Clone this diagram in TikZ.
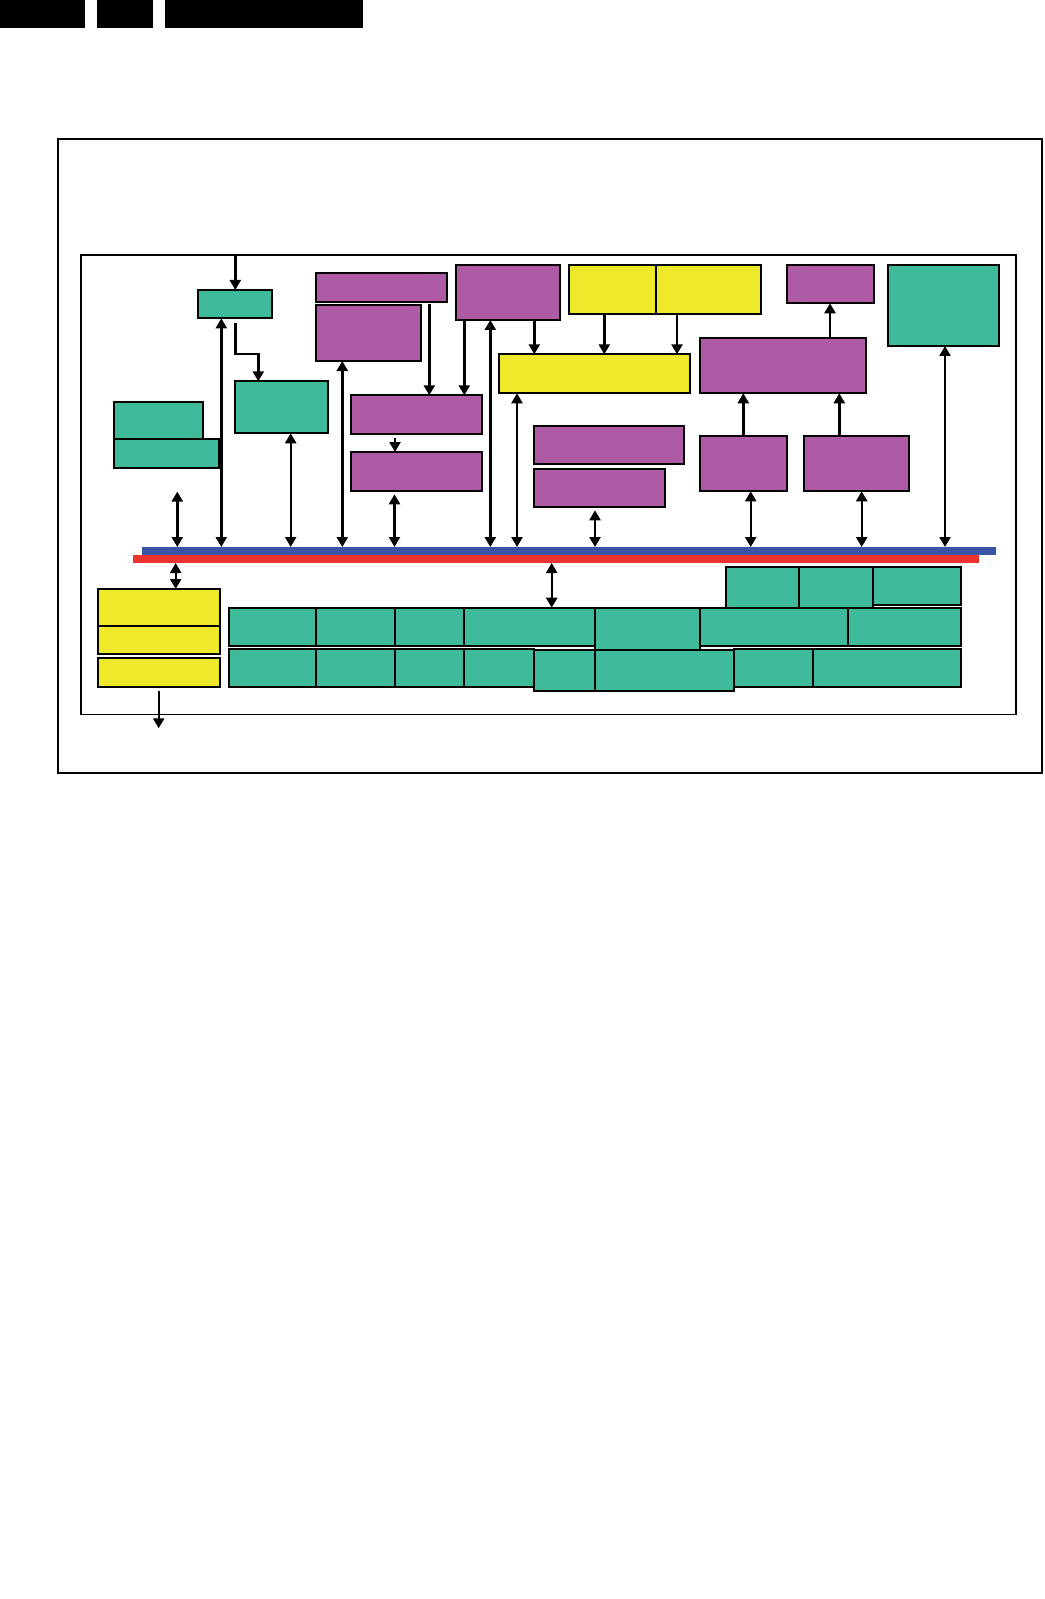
\documentclass[tikz,border=0pt]{standalone}
\usetikzlibrary{arrows.meta,fit}
\definecolor{tealc}{RGB}{63,187,155}
\definecolor{magc}{RGB}{174,90,164}
\definecolor{yelc}{RGB}{238,233,42}
\definecolor{busblue}{RGB}{58,85,166}
\definecolor{busred}{RGB}{238,52,46}
\begin{document}
\begin{tikzpicture}[x=0.5pt,y=-0.5pt,
  blk/.style={draw=black, line width=0.9pt, inner sep=0pt, outer sep=0pt},
  tb/.style={blk, fill=tealc},
  mb/.style={blk, fill=magc},
  yb/.style={blk, fill=yelc},
  frm/.style={draw=black, inner sep=0pt, outer sep=0pt},
  hdr/.style={fill=black, inner sep=0pt, outer sep=0pt},
  bar/.style={inner sep=0pt, outer sep=0pt},
  con/.style={line width=1.2pt, -{Triangle[width=5.5pt,length=5pt]}},
  dcon/.style={line width=1.2pt, {Triangle[width=5.5pt,length=5pt]}-{Triangle[width=5.5pt,length=5pt]}}
]
\useasboundingbox (0,0) rectangle (1044,1599);
% header bars
\node[hdr, fit={(0,0) (85,27.7)}] (hdrA) {};
\node[hdr, fit={(97,0) (153,27.7)}] (hdrB) {};
\node[hdr, fit={(165,0) (363,27.7)}] (hdrC) {};
% frames
\node[frm, line width=1pt, fit={(57.5,138.7) (1042,772.8)}] (outer) {};
\node[frm, line width=0.8pt, fit={(80.7,255.3) (1016,714.5)}] (inner) {};
% upper left
\node[tb, fit={(197.7,290) (272.3,318.3)}] (tealS) {};
\node[tb, fit={(235,381.3) (328.3,433.3)}] (teal2) {};
\node[tb, fit={(114.3,402.3) (203.3,439)}] (tealA) {};
\node[tb, fit={(114.3,439) (219,468)}] (tealB) {};
% magenta cluster
\node[mb, fit={(316.3,272.7) (447.3,302)}] (magA) {};
\node[mb, fit={(316.3,305.3) (421,361)}] (magB) {};
\node[mb, fit={(350.7,395.3) (482.3,434)}] (magC) {};
\node[mb, fit={(350.7,452) (482.3,491.3)}] (magD) {};
\node[mb, fit={(455.7,264.7) (560.3,320)}] (magE) {};
\node[yb, fit={(569,264.7) (656.3,314)}] (yelL) {};
\node[yb, fit={(656.3,264.7) (760.7,314)}] (yelR) {};
\node[yb, fit={(499.3,354.3) (689.7,393.3)}] (yelF) {};
\node[mb, fit={(534.3,425.7) (683.7,464.3)}] (magG) {};
\node[mb, fit={(534.3,468.7) (665.3,507.3)}] (magH) {};
\node[mb, fit={(786.7,264.7) (874.3,303.3)}] (magI) {};
\node[mb, fit={(700,338.3) (865.7,393.3)}] (magJ) {};
\node[mb, fit={(700,436) (787,491.3)}] (magK) {};
\node[mb, fit={(804.3,436) (909.3,491.3)}] (magL) {};
\node[tb, fit={(888.3,264.7) (999.3,346)}] (tealM) {};
% buses
\node[bar, fill=busblue, fit={(142,547) (995.7,555)}] (busB) {};
\node[bar, fill=busred, fit={(133,555) (979,563)}] (busR) {};
% lower left yellow stack
\node[yb, fit={(98.3,589) (220.3,625.7)}] (yel1) {};
\node[yb, fit={(98.3,625.7) (220.3,654.3)}] (yel2) {};
\node[yb, fit={(98.3,658.3) (220.3,687.3)}] (yel3) {};
% lower teal grid
\node[tb, fit={(725.7,567.3) (799.3,608)}] (r0a) {};
\node[tb, fit={(799.3,567.3) (873.3,608)}] (r0b) {};
\node[tb, fit={(873.3,566.7) (961,605.3)}] (r0c) {};
\node[tb, fit={(228.7,607.7) (316.3,646.3)}] (r1a) {};
\node[tb, fit={(316.3,607.7) (395,646.3)}] (r1b) {};
\node[tb, fit={(395,607.7) (464.3,646.3)}] (r1c) {};
\node[tb, fit={(464.3,607.7) (594.7,646.3)}] (r1d) {};
\node[tb, fit={(594.7,608) (700,650)}] (r1e) {};
\node[tb, fit={(700,608) (848,646.3)}] (r1f) {};
\node[tb, fit={(848,608) (961,646.3)}] (r1g) {};
\node[tb, fit={(228.7,649) (316.3,687.3)}] (r2a) {};
\node[tb, fit={(316.3,649) (395,687.3)}] (r2b) {};
\node[tb, fit={(395,649) (464.3,687.3)}] (r2c) {};
\node[tb, fit={(464.3,649) (534.3,687)}] (r2d) {};
\node[tb, fit={(534.3,650) (594.7,691)}] (r2e) {};
\node[tb, fit={(594.7,650) (734.3,691)}] (r2f) {};
\node[tb, fit={(734.3,648.7) (813,687)}] (r2g) {};
\node[tb, fit={(813,648.7) (961,687)}] (r2h) {};
% free ends
\coordinate (inTop) at (235.3,256);
\coordinate (outEnd) at (158.7,728.3);
% connectors
\draw[con] (inTop) -- (inTop |- tealS.north);
\draw[con, shorten <=2.5pt] (tealS.south -| 235.3,0) |- (258.3,354.3) -- (teal2.north -| 258.3,0);
\draw[dcon] (tealS.south -| 221.3,0) -- (busB.north -| 221.3,0);
\draw[dcon] (teal2.south -| 290.7,0) -- (busB.north -| 290.7,0);
\draw[dcon, shorten <=11.8pt] (tealB.south -| 177.3,0) -- (busB.north -| 177.3,0);
\draw[dcon] (magB.south -| 342.3,0) -- (busB.north -| 342.3,0);
\draw[con, shorten <=1pt] (magA.south -| 429.3,0) -- (magC.north -| 429.3,0);
\draw[con, shorten <=2pt] (magC.south -| 395,0) -- (magD.north -| 395,0);
\draw[dcon, shorten <=1.5pt] (magD.south -| 394.5,0) -- (busB.north -| 394.5,0);
\draw[con] (magE.south -| 464.3,0) -- (magC.north -| 464.3,0);
\draw[dcon] (magE.south -| 490.3,0) -- (busB.north -| 490.3,0);
\draw[con] (magE.south -| 534.3,0) -- (yelF.north -| 534.3,0);
\draw[con] (yelL.south -| 604.3,0) -- (yelF.north -| 604.3,0);
\draw[con] (yelR.south -| 677,0) -- (yelF.north -| 677,0);
\draw[dcon] (yelF.south -| 517,0) -- (busB.north -| 517,0);
\draw[dcon, shorten <=1.5pt] (magH.south -| 595,0) -- (busB.north -| 595,0);
\draw[con] (magJ.north -| 830,0) -- (magI.south -| 830,0);
\draw[con] (magK.north -| 743.3,0) -- (magJ.south -| 743.3,0);
\draw[con] (magL.north -| 839.3,0) -- (magJ.south -| 839.3,0);
\draw[dcon] (magK.south -| 750.7,0) -- (busB.north -| 750.7,0);
\draw[dcon] (magL.south -| 861.7,0) -- (busB.north -| 861.7,0);
\draw[dcon] (tealM.south -| 945,0) -- (busB.north -| 945,0);
\draw[dcon] (busR.south -| 175.7,0) -- (yel1.north -| 175.7,0);
\draw[dcon] (busR.south -| 551.7,0) -- (r1d.north -| 551.7,0);
\draw[con, shorten <=1.7pt] (yel3.south -| outEnd) -- (outEnd);
\end{tikzpicture}
\end{document}
